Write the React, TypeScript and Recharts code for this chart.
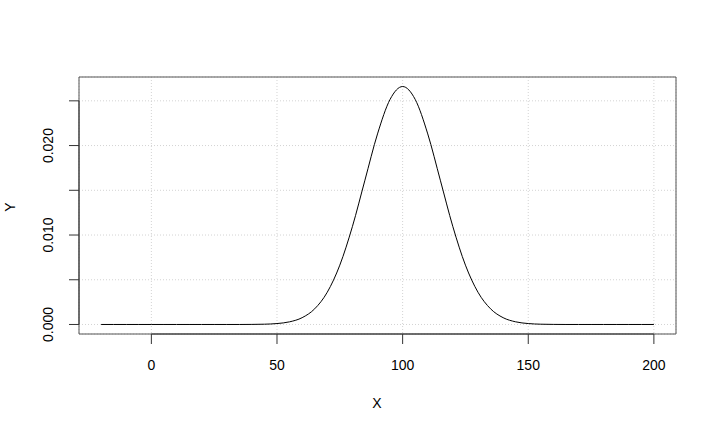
import React from "react";
import {
  LineChart,
  Line,
  XAxis,
  YAxis,
  CartesianGrid,
  ReferenceArea,
  ReferenceLine,
} from "recharts";

// x values, every 5 units
const xs = [
  -20, -15, -10, -5, 0, 5, 10, 15, 20, 25, 30, 35, 40, 45, 50, 55, 60, 65, 70,
  75, 80, 85, 90, 95, 100, 105, 110, 115, 120, 125, 130, 135, 140, 145, 150,
  155, 160, 165, 170, 175, 180, 185, 190, 195, 200,
];
const ys = [
  0, 0, 0, 0, 0, 0, 0, 0, 0, 0, 0, 0, 0.000009, 0.000032, 0.000103, 0.000295,
  0.00076, 0.00175, 0.0036, 0.00663, 0.01093, 0.01613, 0.0213, 0.02516, 0.0266,
  0.02516, 0.0213, 0.01613, 0.01093, 0.00663, 0.0036, 0.00175, 0.00076,
  0.000295, 0.000103, 0.000032, 0.000009, 0, 0, 0, 0, 0, 0, 0, 0,
];
const xTicks = [0, 50, 100, 150, 200];
const yTicks = [0, 0.005, 0.01, 0.015, 0.02, 0.025];
const yLabelled = [0, 0.01, 0.02];

const data = xs.map((x, i) => ({ x, y: ys[i] }));

// R style 4% padding on both axes
const xPad = (xs[xs.length - 1] - xs[0]) * 0.04;
const xLo = xs[0] - xPad;
const xHi = xs[xs.length - 1] + xPad;
const yPad = Math.max(...ys) * 0.04;
const yLo = -yPad;
const yHi = Math.max(...ys) + yPad;

const font = "'Liberation Sans', Arial, Helvetica, sans-serif";
const fs = 14;

const XTick = ({ x, y, payload }: any) => (
  <text
    x={x}
    y={y + fs * 0.71}
    textAnchor="middle"
    fontSize={fs}
    fontFamily={font}
    fill="#000"
  >
    {payload.value}
  </text>
);

const YTick = ({ x, y, payload }: any) => {
  const show = yLabelled.some((v) => Math.abs(v - payload.value) < 1e-9);
  if (!show) return null;
  const bx = x - 15.5;
  return (
    <text
      x={bx}
      y={y}
      transform={`rotate(-90, ${bx}, ${y})`}
      textAnchor="middle"
      fontSize={fs}
      fontFamily={font}
      fill="#000"
    >
      {payload.value.toFixed(3)}
    </text>
  );
};

export default function App() {
  return (
    <div
      style={{
        position: "absolute",
        left: 0,
        top: 0,
        width: 716,
        height: 433,
        background: "#fff",
        fontFamily: font,
      }}
    >
      <LineChart
        width={716}
        height={433}
        data={data}
        margin={{ top: 77, right: 40, bottom: 69, left: 19 }}
      >
        <CartesianGrid stroke="#d3d3d3" strokeDasharray="1 2" />
        <XAxis
          dataKey="x"
          type="number"
          domain={[xLo, xHi]}
          ticks={xTicks}
          allowDataOverflow
          axisLine={false}
          tickLine={{ stroke: "#333" }}
          tickSize={10}
          tickMargin={16}
          height={30}
          tick={<XTick />}
        />
        <YAxis
          type="number"
          domain={[yLo, yHi]}
          ticks={yTicks}
          allowDataOverflow
          axisLine={false}
          tickLine={{ stroke: "#333" }}
          tickSize={10}
          tickMargin={0}
          width={60}
          tick={<YTick />}
        />
        <ReferenceArea
          x1={xLo}
          x2={xHi}
          y1={yLo}
          y2={yHi}
          fill="none"
          stroke="#555"
          strokeWidth={1}
          ifOverflow="visible"
        />
        <ReferenceLine
          segment={[
            { x: xTicks[0], y: yLo },
            { x: xTicks[xTicks.length - 1], y: yLo },
          ]}
          stroke="#333"
          ifOverflow="visible"
        />
        <ReferenceLine
          segment={[
            { x: xLo, y: yTicks[0] },
            { x: xLo, y: yTicks[yTicks.length - 1] },
          ]}
          stroke="#333"
          ifOverflow="visible"
        />
        <Line
          type="monotone"
          dataKey="y"
          stroke="#000"
          strokeWidth={1}
          dot={false}
          isAnimationActive={false}
        />
      </LineChart>
      <div
        style={{
          position: "absolute",
          left: 377,
          top: 403,
          transform: "translate(-50%, -50%)",
          fontSize: fs,
        }}
      >
        X
      </div>
      <div
        style={{
          position: "absolute",
          left: 10,
          top: 207,
          transform: "translate(-50%, -50%) rotate(-90deg)",
          fontSize: fs,
        }}
      >
        Y
      </div>
    </div>
  );
}
